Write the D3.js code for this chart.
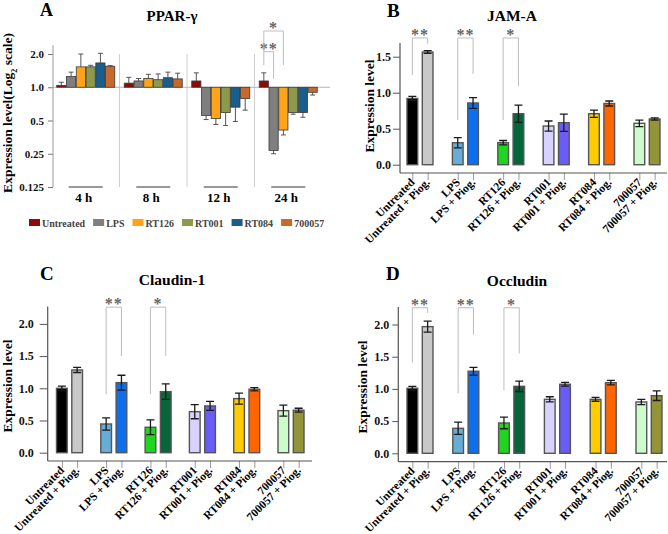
<!DOCTYPE html>
<html>
<head>
  <meta charset="utf-8">
  <script src="https://cdn.jsdelivr.net/npm/d3@7"></script>
  <style>
    body { margin: 0; background: #fff; }
    svg {
      display: block;
      font-family: "Liberation Serif", "Times New Roman", serif;
      font-weight: bold;
    }
  </style>
</head>
<body>
<script>
// ---------- panel A data (PPAR-gamma, log2 scale) ----------
var timeGroups = ["4 h", "8 h", "12 h", "24 h"];
var pparSeries = ["Untreated", "LPS", "RT126", "RT001", "RT084", "700057"];
var pparColors = ["#8b0a0a", "#7f7f7f", "#ffa31a", "#8e9a4b", "#1b5e8c", "#c7692a"];
var pparValues = [
  [1.04, 1.25, 1.53, 1.53, 1.66, 1.55],
  [1.09, 1.14, 1.20, 1.17, 1.22, 1.19],
  [1.14, 0.555, 0.52, 0.59, 0.66, 0.79],
  [1.14, 0.268, 0.41, 0.59, 0.59, 0.90]
];
// end of the (one-sided) error bar
var pparErrEnds = [
  [1.11, 1.37, 2.0, 1.58, 2.03, 1.57],
  [1.23, 1.20, 1.31, 1.32, 1.37, 1.34],
  [1.35, 0.51, 0.46, 0.45, 0.49, 0.62],
  [1.35, 0.25, 0.37, 0.57, 0.535, 0.85]
];
var pparTicks = [2, 1, 0.5, 0.25, 0.125];
var pparTickLabels = ["2.0", "1.0", "0.5", "0.25", "0.125"];
// brackets in the 24 h group: series a vs b
var pparSig = [
  {a: 0, b: 1, label: "**", top: 2.1, left: 1.59, right: 1.19},
  {a: 0, b: 2, label: "*", top: 3.23, left: 2.1, right: 1.59}
];

// ---------- panels B-D ----------
var treatments = ["Untreated", "Untreated + Piog.", "LPS", "LPS + Piog.",
  "RT126", "RT126 + Piog.", "RT001", "RT001 + Piog.",
  "RT084", "RT084 + Piog.", "700057", "700057 + Piog."];
var treatColors = ["#000000", "#c8c8c8", "#68acd8", "#0b6ff0", "#1fd51f", "#05663a",
  "#d8d2ff", "#6a5cf7", "#ffcc00", "#ff6500", "#ccfccc", "#939437"];

var jamValues = [0.92, 1.565, 0.305, 0.857, 0.306, 0.708, 0.537, 0.583, 0.708, 0.85, 0.575, 0.635];
var jamErrors = [0.03, 0.02, 0.07, 0.075, 0.03, 0.12, 0.07, 0.12, 0.05, 0.035, 0.045, 0.015];
var jamTicks = [0, 0.5, 1.0, 1.5];
var jamSig = [
  {pair: 0, label: "**", top: 1.76, left: 1.245, right: 1.68},
  {pair: 1, label: "**", top: 1.76, left: 0.62, right: 1.26},
  {pair: 2, label: "*", top: 1.76, left: 0.62, right: 1.09}
];

var claudinValues = [1.0, 1.285, 0.446, 1.088, 0.395, 0.948, 0.637, 0.726, 0.84, 0.985, 0.653, 0.66];
var claudinErrors = [0.035, 0.04, 0.095, 0.115, 0.115, 0.12, 0.11, 0.07, 0.085, 0.025, 0.085, 0.03];
var claudinTicks = [0, 0.5, 1.0, 1.5, 2.0];
var claudinSig = [
  {pair: 1, label: "**", top: 2.26, left: 0.91, right: 1.5},
  {pair: 2, label: "*", top: 2.26, left: 0.91, right: 1.5}
];

var occludinValues = [1.01, 1.967, 0.388, 1.274, 0.471, 1.04, 0.838, 1.072, 0.838, 1.097, 0.797, 0.895];
var occludinErrors = [0.03, 0.085, 0.095, 0.06, 0.09, 0.08, 0.04, 0.03, 0.03, 0.035, 0.04, 0.075];
var occludinTicks = [0, 0.5, 1.0, 1.5, 2.0];
var occludinSig = [
  {pair: 0, label: "**", top: 2.26, left: 1.41, right: 2.18},
  {pair: 1, label: "**", top: 2.26, left: 0.93, right: 1.84},
  {pair: 2, label: "*", top: 2.26, left: 0.98, right: 1.55}
];

var svg = d3.select("body").append("svg")
  .attr("width", 668)
  .attr("height", 534);

var bracketColor = "#bdbdbd",
    starColor = "#666";

/*
  Panel A
*/
var yA = d3.scaleLog().base(2).domain([0.125, 2]).range([187, 54]);
var xA = d3.scaleBand().domain(timeGroups).range([52, 322])
  .paddingInner(0.14).paddingOuter(0.07);
var xA1 = d3.scaleBand().domain(pparSeries).range([0, xA.bandwidth()]).paddingInner(0.06);

var gA = svg.append("g");

gA.append("text").attr("x", 40).attr("y", 16).style("font-size", "18px").text("A");
gA.append("text").attr("x", 172).attr("y", 21).attr("text-anchor", "middle")
  .style("font-size", "15px").text("PPAR-γ");

// y label with subscript
var ylabA = gA.append("text")
  .attr("transform", "translate(11.5,113) rotate(-90)")
  .attr("text-anchor", "middle")
  .style("font-size", "13.5px");
ylabA.append("tspan").text("Expression level(Log");
ylabA.append("tspan").attr("baseline-shift", "sub").style("font-size", "8px").text("2");
ylabA.append("tspan").text(" scale)");

// group separators
var sepX = timeGroups.slice(1).map(function (g, i) {
  return (xA(timeGroups[i]) + xA.bandwidth() + xA(g)) / 2;
});
gA.selectAll("line.sep").data(sepX).enter().append("line")
  .attr("x1", function (d) { return d; }).attr("x2", function (d) { return d; })
  .attr("y1", yA(2)).attr("y2", yA(0.125))
  .style("stroke", "#cfcfcf").style("stroke-width", 1);

// reference line at 1.0
gA.append("line")
  .attr("x1", 53).attr("x2", 330).attr("y1", yA(1)).attr("y2", yA(1))
  .style("stroke", "#b5b5b5").style("stroke-width", 1);

var axA = gA.append("g").attr("transform", "translate(53,0)")
  .call(d3.axisLeft(yA).tickValues(pparTicks)
    .tickFormat(function (d, i) { return pparTickLabels[i]; })
    .tickSize(5).tickPadding(4));
axA.attr("font-family", null).attr("font-size", null);
axA.select(".domain").remove();
axA.selectAll(".tick line").style("stroke", "#777");
axA.selectAll(".tick text").style("font-size", "11px").attr("fill", "#111");
gA.append("line").attr("x1", 53).attr("x2", 53).attr("y1", yA(2.4)).attr("y2", yA(0.125))
  .style("stroke", "#999").style("stroke-width", 1);

// bars
timeGroups.forEach(function (grp, gi) {
  var gg = gA.append("g").attr("transform", "translate(" + xA(grp) + ",0)");
  pparSeries.forEach(function (s, si) {
    var v = pparValues[gi][si], e = pparErrEnds[gi][si];
    var cx = xA1(s) + xA1.bandwidth() / 2;
    gg.append("line").attr("x1", cx).attr("x2", cx).attr("y1", yA(v)).attr("y2", yA(e))
      .style("stroke", "#555").style("stroke-width", 1);
    gg.append("line").attr("x1", cx - 2.5).attr("x2", cx + 2.5).attr("y1", yA(e)).attr("y2", yA(e))
      .style("stroke", "#555").style("stroke-width", 1);
    gg.append("rect")
      .attr("x", xA1(s))
      .attr("y", Math.min(yA(v), yA(1)))
      .attr("width", xA1.bandwidth())
      .attr("height", Math.abs(yA(v) - yA(1)))
      .style("fill", pparColors[si])
      .style("stroke", "#3a3a3a").style("stroke-width", 0.8);
  });
  // underline + label
  var c = xA(grp) + xA.bandwidth() / 2;
  gA.append("line").attr("x1", c - 17).attr("x2", c + 17).attr("y1", yA(0.125)).attr("y2", yA(0.125))
    .style("stroke", "#333").style("stroke-width", 1);
  gA.append("text").attr("x", c - 2).attr("y", 202).attr("text-anchor", "middle")
    .style("font-size", "13px").text(grp);
});

// significance brackets (24 h)
var last = timeGroups[timeGroups.length - 1];
pparSig.forEach(function (s) {
  var xa = xA(last) + xA1(pparSeries[s.a]) + xA1.bandwidth() / 2,
      xb = xA(last) + xA1(pparSeries[s.b]) + xA1.bandwidth() / 2;
  gA.append("path")
    .attr("d", "M" + xa + "," + yA(s.left) + "V" + yA(s.top) + "H" + xb + "V" + yA(s.right))
    .style("fill", "none").style("stroke", bracketColor).style("stroke-width", 1);
  gA.append("text").attr("x", (xa + xb) / 2).attr("y", yA(s.top) + 2)
    .attr("text-anchor", "middle").style("font-size", "16px").style("letter-spacing", "1px")
    .attr("fill", starColor).text(s.label);
});

// legend
var legA = gA.append("g").attr("transform", "translate(29,219)");
var lx = 0;
pparSeries.forEach(function (s, i) {
  legA.append("rect").attr("x", lx).attr("y", 0).attr("width", 11).attr("height", 7)
    .style("fill", pparColors[i]);
  var t = legA.append("text").attr("x", lx + 13).attr("y", 7.5)
    .style("font-size", "10px").attr("fill", "#444").text(s);
  lx += 13 + t.node().getComputedTextLength() + 8;
});

/*
  Panels B, C, D share the same paired bar layout
*/
function drawPairPanel(o) {
  var g = svg.append("g");
  var y = d3.scaleLinear().domain([0, 1]).range([o.y0, o.y1]);
  var pairX = d3.scalePoint().domain(d3.range(6)).range(o.pairRange);
  var inner = d3.scaleBand().domain([0, 1]).range([-13, 13]).paddingInner(0.3);
  var x = d3.scaleOrdinal().domain(treatments).range(treatments.map(function (t, i) {
    return pairX(Math.floor(i / 2)) + inner(i % 2) + inner.bandwidth() / 2;
  }));
  var bw = inner.bandwidth();

  g.append("text").attr("x", o.letterX).attr("y", o.letterY).style("font-size", "19px").text(o.letter);
  g.append("text").attr("x", o.titleX).attr("y", o.titleY).attr("text-anchor", "middle")
    .style("font-size", "15.5px").text(o.title);
  g.append("text")
    .attr("transform", "translate(" + o.ylabX + "," + o.ylabY + ") rotate(-90)")
    .attr("text-anchor", "middle").style("font-size", "13.5px").text("Expression level");

  // y axis
  var ay = g.append("g").attr("transform", "translate(" + o.axisX + ",0)")
    .call(d3.axisLeft(y).tickValues(o.ticks).tickFormat(d3.format(".1f"))
      .tickSize(o.tickSize).tickPadding(o.tickPad));
  ay.attr("font-family", null).attr("font-size", null);
  ay.select(".domain").remove();
  ay.selectAll(".tick line").style("stroke", "#555");
  ay.selectAll(".tick text").style("font-size", "12px").attr("fill", "#111");
  g.append("line").attr("x1", o.axisX).attr("x2", o.axisX).attr("y1", y(o.axisTop)).attr("y2", o.axisY)
    .style("stroke", "#555").style("stroke-width", 1.2);

  // x axis
  var ax = g.append("g").attr("transform", "translate(0," + o.axisY + ")")
    .call(d3.axisBottom(x).tickSize(7).tickFormat(""));
  ax.select(".domain").remove();
  ax.selectAll(".tick line").style("stroke", "#999");
  g.append("line").attr("x1", o.axisX).attr("x2", o.axisRight).attr("y1", o.axisY).attr("y2", o.axisY)
    .style("stroke", "#555").style("stroke-width", 1.2);
  g.selectAll("text.xl").data(treatments).enter().append("text")
    .attr("class", "xl")
    .attr("transform", function (d) { return "translate(" + (x(d) + 3) + "," + (o.axisY + 10) + ") rotate(-45)"; })
    .attr("text-anchor", "end")
    .style("font-size", "11.5px")
    .text(function (d) { return d; });

  // bars
  g.selectAll("rect.bar").data(treatments).enter().append("rect")
    .attr("class", "bar")
    .attr("x", function (d) { return x(d) - bw / 2; })
    .attr("y", function (d, i) { return y(o.values[i]); })
    .attr("width", bw)
    .attr("height", function (d, i) { return y(0) - y(o.values[i]); })
    .style("fill", function (d, i) { return treatColors[i]; })
    .style("stroke", "#555").style("stroke-width", 1.4);

  // error bars
  treatments.forEach(function (t, i) {
    var v = o.values[i], e = o.errors[i], cx = x(t);
    var path = "M" + cx + "," + y(v - e) + "V" + y(v + e) +
      "M" + (cx - 4) + "," + y(v - e) + "H" + (cx + 4) +
      "M" + (cx - 4) + "," + y(v + e) + "H" + (cx + 4);
    g.append("path").attr("d", path).style("fill", "none")
      .style("stroke", "#1a1a1a").style("stroke-width", 1.3);
  });

  // significance brackets
  o.sig.forEach(function (s) {
    var xa = x(treatments[s.pair * 2]), xb = x(treatments[s.pair * 2 + 1]);
    g.append("path")
      .attr("d", "M" + xa + "," + y(s.left) + "V" + y(s.top) + "H" + xb + "V" + y(s.right))
      .style("fill", "none").style("stroke", bracketColor).style("stroke-width", 1);
    g.append("text").attr("x", (xa + xb) / 2).attr("y", y(s.top) + 2)
      .attr("text-anchor", "middle").style("font-size", "16px").style("letter-spacing", "1px")
      .attr("fill", starColor).text(s.label);
  });
}

drawPairPanel({
  letter: "B", letterX: 387, letterY: 17, title: "JAM-A", titleX: 512, titleY: 21,
  ylabX: 373.5, ylabY: 106,
  values: jamValues, errors: jamErrors, ticks: jamTicks, sig: jamSig,
  y0: 164.7, y1: 92.7, axisX: 400, axisY: 173, axisTop: 1.69, axisRight: 667,
  tickSize: 7, tickPad: 2, pairRange: [420, 647]
});

drawPairPanel({
  letter: "C", letterX: 40, letterY: 280, title: "Claudin-1", titleX: 172, titleY: 285,
  ylabX: 11.5, ylabY: 386,
  values: claudinValues, errors: claudinErrors, ticks: claudinTicks, sig: claudinSig,
  y0: 452.7, y1: 388.3, axisX: 47.7, axisY: 461, axisTop: 2.27, axisRight: 312,
  tickSize: 8, tickPad: 6, pairRange: [69.5, 291]
});

drawPairPanel({
  letter: "D", letterX: 386, letterY: 280, title: "Occludin", titleX: 517, titleY: 286,
  ylabX: 366.5, ylabY: 387,
  values: occludinValues, errors: occludinErrors, ticks: occludinTicks, sig: occludinSig,
  y0: 453.3, y1: 388.9, axisX: 398.3, axisY: 461.7, axisTop: 2.27, axisRight: 667,
  tickSize: 6, tickPad: 3, pairRange: [420, 649]
});
</script>
</body>
</html>
